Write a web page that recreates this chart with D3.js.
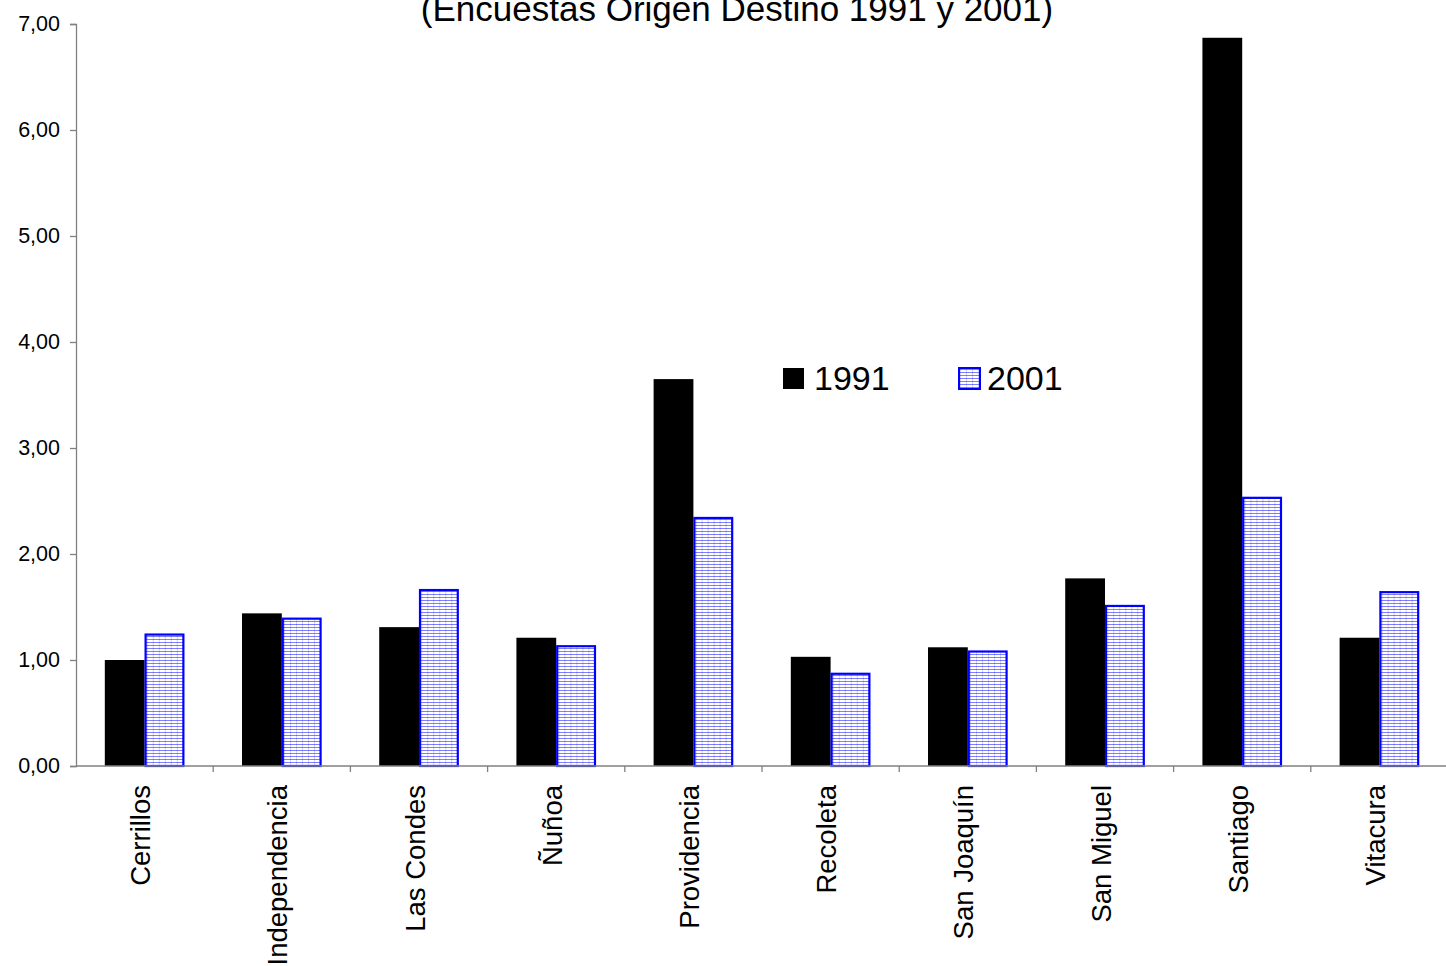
<!DOCTYPE html>
<html>
<head>
<meta charset="utf-8">
<script src="https://cdn.jsdelivr.net/npm/d3@7"></script>
<style>
  html, body { margin: 0; padding: 0; background: #fff; }
  svg { display: block; font-family: Arial, "Liberation Sans", sans-serif; }
</style>
</head>
<body>
<svg id="chart" width="1446" height="966"></svg>
<script>
// Communes (comunas) of Santiago
const categories = ["Cerrillos", "Independencia", "Las Condes", "Ñuñoa", "Providencia",
                    "Recoleta", "San Joaquín", "San Miguel", "Santiago", "Vitacura"];
const seriesNames = ["1991", "2001"];
const values1991 = [1.00, 1.44, 1.31, 1.21, 3.65, 1.03, 1.12, 1.77, 6.87, 1.21];
const values2001 = [1.24, 1.39, 1.66, 1.13, 2.34, 0.87, 1.08, 1.51, 2.53, 1.64];
const yTicks = [0, 1, 2, 3, 4, 5, 6, 7];
const titleText = "(Encuestas Origen Destino 1991 y 2001)";

const svg = d3.select("#chart");
const margin = { left: 76, right: -2, top: 24, bottom: 200 };
const W = 1446, H = 966;
const x0 = margin.left, x1r = W - margin.right;
const yBottom = H - margin.bottom;

const rows = categories.map((c, i) => ({ cat: c, v: [values1991[i], values2001[i]] }));

const x = d3.scaleBand().domain(categories).range([x0, x1r])
  .paddingInner(0.42).paddingOuter(0.21);
const xs = d3.scaleBand().domain(seriesNames).range([0, x.bandwidth()]).padding(0);
const y = d3.scaleLinear().domain([0, 7]).range([yBottom, margin.top]);

// hatch fill for the 2001 series
const defs = svg.append("defs");
const pat = defs.append("pattern").attr("id", "hatch2001")
  .attr("patternUnits", "userSpaceOnUse").attr("width", 6).attr("height", 3);
pat.append("rect").attr("width", 6).attr("height", 3).attr("fill", "#fff");
pat.append("rect").attr("x", 0).attr("y", 0).attr("width", 6).attr("height", 1)
  .attr("fill", "rgba(0,0,255,0.5)");
pat.append("rect").attr("x", 0).attr("y", 0).attr("width", 1).attr("height", 3)
  .attr("fill", "rgba(0,0,255,0.18)");

// title (second line of the heading; its top runs past the upper edge)
svg.append("text").attr("x", 737).attr("y", 21)
  .attr("text-anchor", "middle").attr("font-size", 35).attr("fill", "#000")
  .text(titleText);

// bars
const groups = svg.append("g").selectAll("g").data(rows).join("g")
  .attr("transform", d => `translate(${x(d.cat)},0)`);

groups.append("rect")
  .attr("x", xs("1991")).attr("width", xs.bandwidth())
  .attr("y", d => y(d.v[0])).attr("height", d => y(0) - y(d.v[0]))
  .attr("fill", "#000");

groups.append("rect")
  .attr("x", xs("2001") + 1).attr("width", xs.bandwidth() - 2)
  .attr("y", d => y(d.v[1])).attr("height", d => y(0) - y(d.v[1]))
  .attr("fill", "url(#hatch2001)")
  .attr("stroke", "#0000ff").attr("stroke-width", 2.2);

// y axis
const yAxis = d3.axisLeft(y).tickValues(yTicks).tickSize(6).tickPadding(10)
  .tickFormat(d => d3.format(".2f")(d).replace(".", ","));
const gy = svg.append("g").attr("transform", `translate(${x0},0)`).call(yAxis);
gy.select(".domain").attr("stroke", "#808080").attr("stroke-width", 1.3);
gy.selectAll(".tick line").attr("stroke", "#808080").attr("stroke-width", 1.3);
gy.selectAll(".tick text").attr("font-size", 21.5).attr("fill", "#000")
  .attr("font-family", "Arial, 'Liberation Sans', sans-serif");

// x axis: baseline, ticks at category boundaries, rotated labels
const gx = svg.append("g");
gx.append("line").attr("x1", x0).attr("x2", W).attr("y1", y(0)).attr("y2", y(0))
  .attr("stroke", "#808080").attr("stroke-width", 1.3);
const boundaries = categories.map(c => x(c) - x.step() * x.paddingOuter());
gx.selectAll("line.tk").data(boundaries.slice(1)).join("line").attr("class", "tk")
  .attr("x1", d => d).attr("x2", d => d).attr("y1", y(0)).attr("y2", y(0) + 6)
  .attr("stroke", "#808080").attr("stroke-width", 1.3);
gx.selectAll("text").data(categories).join("text")
  .attr("transform", d => `translate(${x(d) + x.bandwidth() / 2 - 4},${y(0) + 19}) rotate(-90)`)
  .attr("text-anchor", "end").attr("dominant-baseline", "central")
  .attr("font-size", 27.5).attr("fill", "#000")
  .text(d => d);

// legend
const legend = svg.append("g");
const lg = [
  { name: "1991", sx: 783, tx: 814, fill: "#000", stroke: "none" },
  { name: "2001", sx: 959, tx: 987, fill: "url(#hatch2001)", stroke: "#0000ff" }
];
legend.selectAll("rect").data(lg).join("rect")
  .attr("x", d => d.sx).attr("y", 368).attr("width", 21).attr("height", 21)
  .attr("fill", d => d.fill).attr("stroke", d => d.stroke).attr("stroke-width", 2);
legend.selectAll("text").data(lg).join("text")
  .attr("x", d => d.tx).attr("y", 390).attr("font-size", 34).attr("fill", "#000")
  .text(d => d.name);
</script>
</body>
</html>
